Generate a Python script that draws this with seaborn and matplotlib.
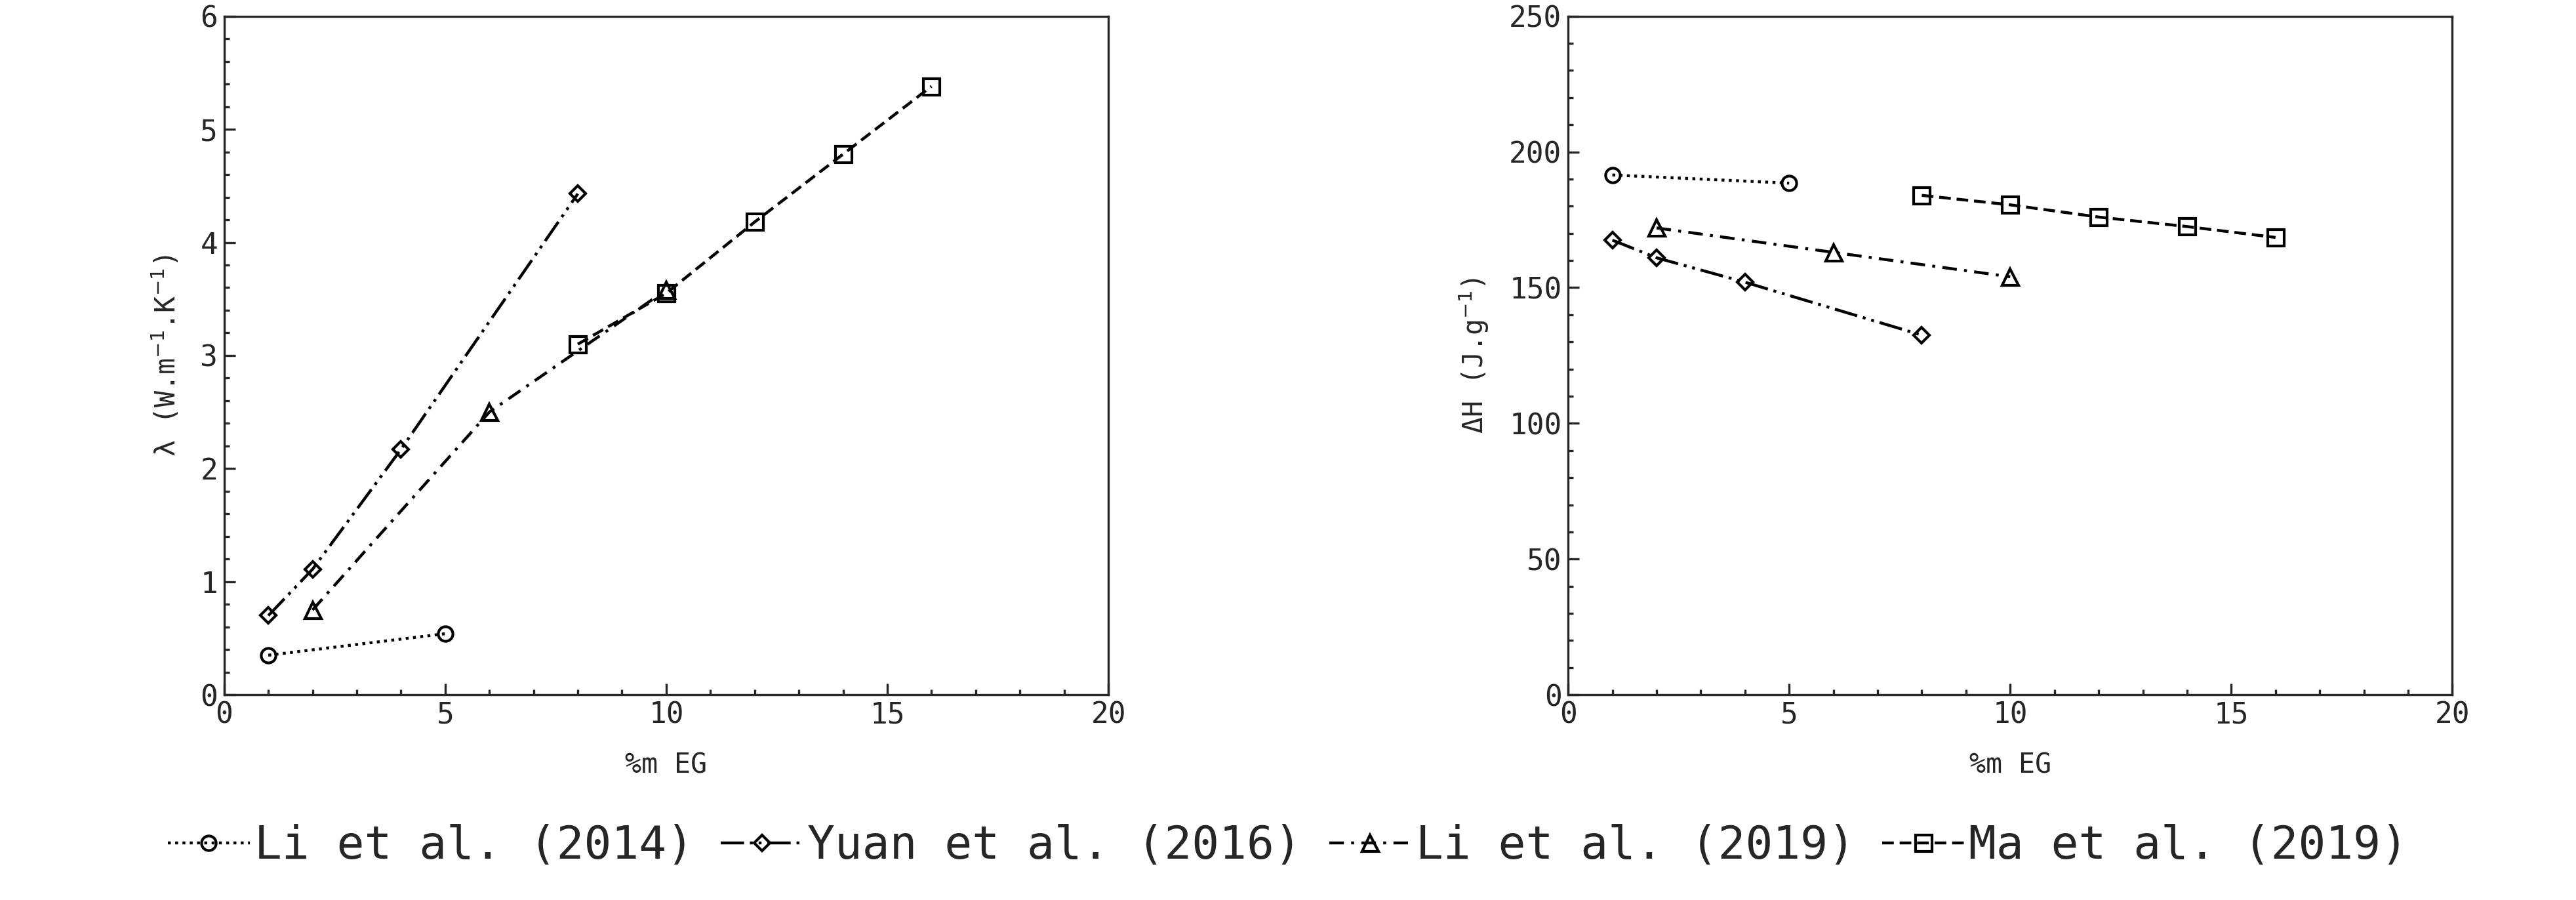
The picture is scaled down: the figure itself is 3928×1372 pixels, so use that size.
import matplotlib

matplotlib.use("Agg")
import matplotlib.pyplot as plt
from matplotlib.ticker import MultipleLocator
import seaborn as sns
import pandas as pd

sns.set_style("ticks")
plt.rcParams["font.family"] = ["DejaVu Sans Mono"]

series = ["Li et al. (2014)", "Yuan et al. (2016)", "Li et al. (2019)", "Ma et al. (2019)"]
x_li14 = [1, 5]
x_yuan16 = [1, 2, 4, 8]
x_li19 = [2, 6, 10]
x_ma19 = [8, 10, 12, 14, 16]
lam_li14 = [0.35, 0.54]
lam_yuan16 = [0.70, 1.11, 2.17, 4.43]
lam_li19 = [0.75, 2.50, 3.58]
lam_ma19 = [3.10, 3.55, 4.18, 4.78, 5.38]
dh_li14 = [191.5, 188.5]
dh_yuan16 = [167.5, 161.0, 152.0, 132.5]
dh_li19 = [172.0, 163.0, 154.0]
dh_ma19 = [184.0, 180.5, 176.0, 172.5, 168.5]

xs = [x_li14, x_yuan16, x_li19, x_ma19]
lams = [lam_li14, lam_yuan16, lam_li19, lam_ma19]
dhs = [dh_li14, dh_yuan16, dh_li19, dh_ma19]
markers = ["o", "D", "^", "s"]
msizes = [8, 6, 9, 9]
styles = [(0, (1, 1.5)), (0, (8, 2, 1, 2, 1, 2)), (0, (5, 2.5, 1, 2.5)), (0, (4, 2))]

fig, axes = plt.subplots(1, 2, figsize=(19.64, 6.86), dpi=200)
fig.subplots_adjust(left=0.087, right=0.952, top=0.982, bottom=0.228, wspace=0.52)

for ax, ys, ylabel, ymax, ymaj, ymin in [
    (axes[0], lams, r"λ (W.m$^{-1}$.K$^{-1}$)", 6, 1, 0.2),
    (axes[1], dhs, r"ΔH (J.g$^{-1}$)", 250, 50, 10),
]:
    for name, x, y, m, ms, ls in zip(series, xs, ys, markers, msizes, styles):
        df = pd.DataFrame({"x": x, "y": y})
        sns.lineplot(data=df, x="x", y="y", ax=ax, color="black", lw=1.6, linestyle=ls,
                     marker=m, markersize=ms, markerfacecolor="none",
                     markeredgecolor="black", markeredgewidth=1.5, label=name, legend=False)
    ax.set_xlim(0, 20)
    ax.set_ylim(0, ymax)
    ax.xaxis.set_major_locator(MultipleLocator(5))
    ax.xaxis.set_minor_locator(MultipleLocator(1))
    ax.yaxis.set_major_locator(MultipleLocator(ymaj))
    ax.yaxis.set_minor_locator(MultipleLocator(ymin))
    ax.tick_params(which="both", direction="in", labelsize=16, length=6, width=1.2)
    ax.tick_params(which="minor", length=3)
    ax.set_xlabel("%m EG", fontsize=15, labelpad=12)
    ax.set_ylabel(ylabel, fontsize=15, labelpad=10)
    for s in ax.spines.values():
        s.set_visible(True)
        s.set_linewidth(1.2)

handles, labels = axes[0].get_legend_handles_labels()
fig.legend(handles, labels, loc="lower center", ncol=4, frameon=False, fontsize=25,
           handlelength=1.8, handletextpad=0.1, columnspacing=0.6,
           bbox_to_anchor=(0.5, -0.01))

fig.savefig("out.png", dpi=200)
